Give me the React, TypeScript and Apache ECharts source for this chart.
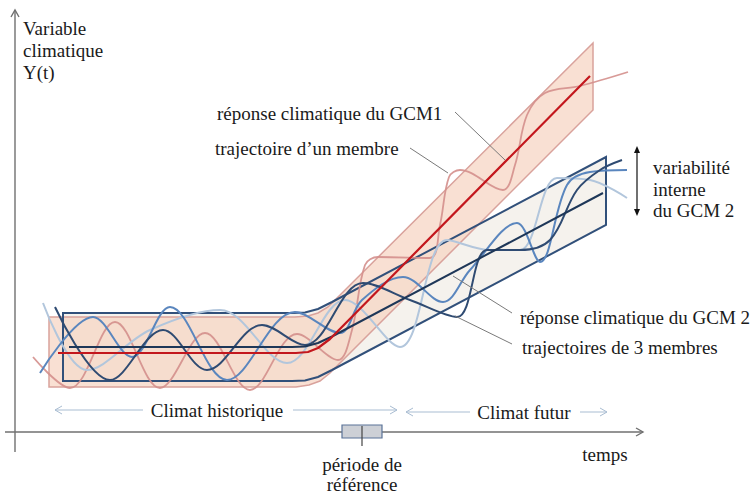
import React, { useEffect, useRef } from "react";
import * as echarts from "echarts";

const W = 753;
const H = 493;

// Envelope of the GCM1 response (upper edge then lower edge)
const gcm1BandUpper = [[49, 317], [295, 317], [308, 316], [318, 313], [328, 307], [593, 43]];
const gcm1BandLower = [[593, 110], [330, 373], [320, 381], [309, 385], [296, 387], [49, 387]];
// Envelope of GCM2 internal variability
const gcm2BandUpper = [[63, 313], [292, 313], [305, 312.5], [318, 309], [332, 302], [606, 157]];
const gcm2BandLower = [[606, 225], [332, 370], [318, 377], [305, 380.5], [292, 381], [63, 381]];

// Forced responses
const gcm1Response = [[58, 353], [296, 353], [308, 352], [318, 348], [330, 339], [590, 76]];
const gcm2Response = [[69, 347], [292, 347], [305, 346.5], [318, 343], [332, 336.5], [603, 193]];

// Member trajectories (extrema)
const gcm1Member = [[33, 357], [70, 388], [115, 322], [160, 388], [205, 333], [250, 390], [297, 334], [338, 360], [352, 330], [365, 265], [378, 257], [430, 258], [440, 225], [449, 177], [460, 170], [503, 190], [515, 165], [527, 115], [545, 93], [580, 86], [628, 72]];
const gcm2MemberA = [[40, 373], [93, 317], [132, 357], [170, 307], [227, 380], [295, 312], [340, 333], [362, 300], [403, 277], [443, 302], [470, 270], [517, 223], [540, 262], [567, 185], [590, 172], [627, 170]];
const gcm2MemberB = [[55, 307], [110, 380], [163, 330], [207, 370], [262, 325], [305, 345], [363, 283], [410, 300], [457, 317], [487, 250], [520, 250], [550, 240], [577, 190], [600, 170], [622, 160]];
const gcm2MemberC = [[43, 303], [87, 370], [150, 330], [220, 310], [287, 363], [345, 300], [400, 347], [447, 240], [490, 250], [520, 250], [557, 178], [590, 180], [627, 198]];

const FONT = "Times New Roman, Liberation Serif, DejaVu Serif, serif";
const FS = 19;

export default function App() {
  const ref = useRef<HTMLDivElement>(null);
  useEffect(() => {
    document.body.style.margin = "0";
    const chart = echarts.init(ref.current!, null, { renderer: "svg" });

    const poly = (pts: number[][], fill: string, stroke: string, lw: number, z: number) => ({
      type: "custom",
      coordinateSystem: "cartesian2d",
      data: [[0, 0]],
      silent: true,
      z,
      renderItem: (_p: any, api: any) => ({
        type: "polygon",
        shape: { points: pts.map((p) => api.coord(p)) },
        style: { fill, stroke, lineWidth: lw },
      }),
    });
    const line = (pts: number[][], color: string, width: number, smooth: number | boolean, z: number, opacity = 1) => ({
      type: "line",
      data: pts,
      smooth,
      showSymbol: false,
      symbol: "none",
      silent: true,
      z,
      lineStyle: { color, width, opacity },
      emphasis: { disabled: true },
    });

    const txt = (x: number, y: number, text: string, align = "left", size = FS) => ({
      type: "text",
      x,
      y,
      z: 100,
      style: { text, fill: "#1a1a1a", fontFamily: FONT, fontSize: size, align, verticalAlign: "middle" },
    });
    const seg = (x1: number, y1: number, x2: number, y2: number, stroke: string, lw = 1) => ({
      type: "line",
      z: 100,
      shape: { x1, y1, x2, y2 },
      style: { stroke, lineWidth: lw },
    });
    const chevron = (pts: number[][], stroke: string, lw = 1) => ({
      type: "polyline",
      z: 100,
      shape: { points: pts },
      style: { stroke, lineWidth: lw, fill: "none" },
    });

    const axisC = "#707070";
    const arrC = "#a9bdd2";

    chart.setOption({
      animation: false,
      textStyle: { fontFamily: FONT },
      grid: { left: 0, right: 0, top: 0, bottom: 0 },
      xAxis: { type: "value", min: 0, max: W, show: false },
      yAxis: { type: "value", min: 0, max: H, inverse: true, show: false },
      series: [
        poly([...gcm2BandUpper, ...gcm2BandLower], "#f5f2ed", "none", 0, 2),
        poly([...gcm1BandUpper, ...gcm1BandLower], "rgba(247,212,194,0.72)", "#d9a29c", 1.5, 3),
        poly([...gcm2BandUpper, ...gcm2BandLower], "none", "#31507a", 2, 4),
        line(gcm1Member, "#d48f8c", 1.8, 0.35, 5, 0.9),
        line(gcm2MemberC, "#b2c6dc", 2, 0.35, 5),
        line(gcm2MemberA, "#5a86be", 2, 0.35, 6),
        line(gcm2MemberB, "#2f4b72", 2, 0.35, 6),
        line(gcm2Response, "#1e3758", 2, false, 7),
        line(gcm1Response, "#c3171d", 2.2, false, 8),
      ],
      graphic: [
        // axes
        seg(15, 452, 15, 10, axisC, 1.4),
        chevron([[11, 17], [15, 10], [19, 17]], axisC, 1.4),
        seg(5, 432, 643, 432, axisC, 1.6),
        chevron([[636, 428], [643, 432], [636, 436]], axisC, 1.4),
        txt(23, 28, "Variable"),
        txt(23, 50, "climatique"),
        txt(23, 72, "Y(t)"),
        txt(605, 454, "temps", "center"),
        // reference period
        {
          type: "rect",
          z: 100,
          shape: { x: 342, y: 425, width: 40, height: 13 },
          style: { fill: "#cdd0d6", stroke: "#5a7398", lineWidth: 1.2 },
        },
        seg(362, 426, 362, 446, "#444", 1.2),
        txt(362, 464, "période de", "center"),
        txt(362, 484, "référence", "center"),
        // climate periods
        txt(217, 410, "Climat historique", "center"),
        seg(55, 410, 143, 410, arrC, 1),
        chevron([[62, 406], [55, 410], [62, 414]], arrC, 1),
        seg(293, 410, 397, 410, arrC, 1),
        chevron([[390, 406], [397, 410], [390, 414]], arrC, 1),
        txt(524, 412, "Climat futur", "center"),
        seg(406, 412, 470, 412, arrC, 1),
        chevron([[413, 408], [406, 412], [413, 416]], arrC, 1),
        seg(580, 412, 607, 412, arrC, 1),
        chevron([[600, 408], [607, 412], [600, 416]], arrC, 1),
        // annotations
        txt(217, 113, "réponse climatique du GCM1"),
        txt(215, 148, "trajectoire d\u2019un membre"),
        seg(455, 112, 505, 160, "#7a7a7a", 1),
        seg(410, 148, 448, 173, "#7a7a7a", 1),
        txt(653, 167, "variabilité"),
        txt(653, 189, "interne"),
        txt(653, 210, "du GCM 2"),
        seg(637, 151, 637, 211, "#111", 1.2),
        { type: "polygon", z: 100, shape: { points: [[634, 153], [637, 146], [640, 153]] }, style: { fill: "#111" } },
        { type: "polygon", z: 100, shape: { points: [[634, 209], [637, 216], [640, 209]] }, style: { fill: "#111" } },
        txt(520, 317, "réponse climatique du GCM 2"),
        txt(522, 347, "trajectoires de 3 membres"),
        seg(453, 276, 512, 313, "#7a7a7a", 1),
        seg(455, 316, 512, 344, "#7a7a7a", 1),
      ],
    });
    return () => chart.dispose();
  }, []);
  return <div ref={ref} style={{ width: W, height: H }} />;
}
